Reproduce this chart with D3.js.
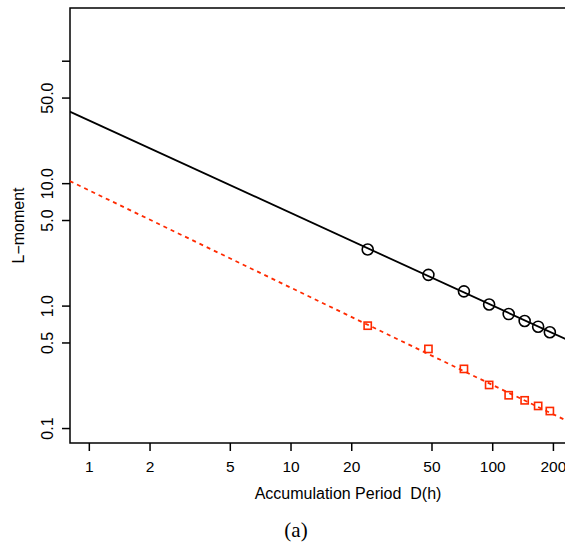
<!DOCTYPE html>
<html>
<head>
<meta charset="utf-8">
<script src="https://cdn.jsdelivr.net/npm/d3@7"></script>
<style>
  html, body { margin: 0; padding: 0; background: #fff; }
  svg { display: block; }
  text { font-family: "Liberation Sans", Arial, Helvetica, sans-serif; }
</style>
</head>
<body>
<svg id="chart" width="565" height="547"></svg>
<script>
// ---- data ----
const durations = [24, 48, 72, 96, 120, 144, 168, 192];
const lmoment1 = [2.90, 1.80, 1.32, 1.03, 0.861, 0.755, 0.679, 0.611];
const lmoment2 = [0.692, 0.447, 0.307, 0.227, 0.187, 0.170, 0.153, 0.139];
const fitX = [0.8, 260];
const fit1 = [38.8, 0.49];
const fit2 = [10.5, 0.106];
const xTicks = [1, 2, 5, 10, 20, 50, 100, 200];
const yTicks = [0.1, 0.5, 1, 5, 10, 50, 100];
const yTickLabels = ["0.1", "0.5", "1.0", "5.0", "10.0", "50.0", ""];

// ---- layout ----
const svg = d3.select("#chart");
const pL = 70, pR = 626, pT = 8, pB = 443;
const x = d3.scaleLog().domain([0.802, 458]).range([pL, pR]);
const y = d3.scaleLog().domain([0.0762, 272]).range([pB, pT]);

const defs = svg.append("defs");
defs.append("clipPath").attr("id", "clip")
  .append("rect").attr("x", pL).attr("y", pT)
  .attr("width", pR - pL).attr("height", pB - pT);

// box
svg.append("rect").attr("x", pL).attr("y", pT)
  .attr("width", pR - pL).attr("height", pB - pT)
  .attr("fill", "none").attr("stroke", "#000").attr("stroke-width", 1.5);

// x axis ticks
const xAxisG = svg.append("g");
xTicks.forEach(t => {
  xAxisG.append("line").attr("x1", x(t)).attr("x2", x(t))
    .attr("y1", pB).attr("y2", pB + 8)
    .attr("stroke", "#000").attr("stroke-width", 1.5);
  xAxisG.append("text").attr("x", x(t)).attr("y", 472)
    .attr("text-anchor", "middle").attr("font-size", 15.5).text(String(t));
});

// y axis ticks
const yAxisG = svg.append("g");
yTicks.forEach((t, i) => {
  yAxisG.append("line").attr("x1", pL - 8).attr("x2", pL)
    .attr("y1", y(t)).attr("y2", y(t))
    .attr("stroke", "#000").attr("stroke-width", 1.5);
  if (yTickLabels[i]) {
    yAxisG.append("text")
      .attr("transform", `translate(53,${y(t)}) rotate(-90)`)
      .attr("text-anchor", "middle").attr("font-size", 16).text(yTickLabels[i]);
  }
});

// titles
svg.append("text").attr("x", 348).attr("y", 499)
  .attr("text-anchor", "middle").attr("font-size", 16)
  .style("white-space", "pre")
  .text("Accumulation Period  D(h)");
svg.append("text")
  .attr("transform", `translate(24,${(pT + pB) / 2}) rotate(-90)`)
  .attr("text-anchor", "middle").attr("font-size", 16).text("L\u2212moment");
svg.append("text").attr("x", 296).attr("y", 537)
  .attr("text-anchor", "middle").attr("font-size", 21)
  .style("font-family", "'Liberation Serif', 'DejaVu Serif', serif")
  .text("(a)");

// fitted lines
const plotG = svg.append("g").attr("clip-path", "url(#clip)");
const line = d3.line().x(d => x(d[0])).y(d => y(d[1]));
plotG.append("path").datum(d3.zip(fitX, fit1)).attr("d", line)
  .attr("fill", "none").attr("stroke", "#000").attr("stroke-width", 1.8);
plotG.append("path").datum(d3.zip(fitX, fit2)).attr("d", line)
  .attr("fill", "none").attr("stroke", "#ff2a00").attr("stroke-width", 1.8)
  .attr("stroke-dasharray", "4,4");

// points
plotG.selectAll("circle.p1").data(d3.zip(durations, lmoment1)).join("circle")
  .attr("cx", d => x(d[0])).attr("cy", d => y(d[1])).attr("r", 5.5)
  .attr("fill", "none").attr("stroke", "#000").attr("stroke-width", 1.6);
plotG.selectAll("rect.p2").data(d3.zip(durations, lmoment2)).join("rect")
  .attr("x", d => x(d[0]) - 3.6).attr("y", d => y(d[1]) - 3.6)
  .attr("width", 7.2).attr("height", 7.2)
  .attr("fill", "none").attr("stroke", "#ff2a00").attr("stroke-width", 1.6);
</script>
</body>
</html>
